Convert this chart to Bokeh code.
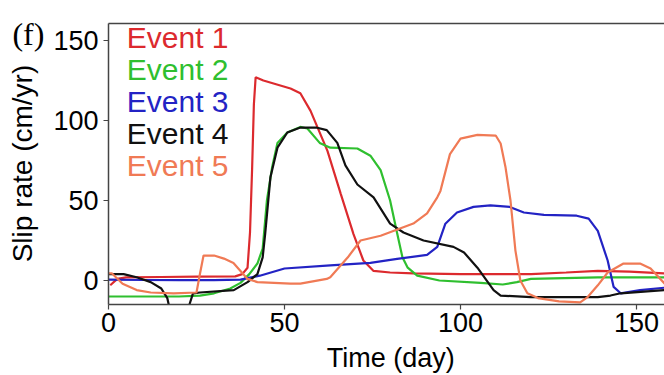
import math
from bokeh.plotting import figure
from bokeh.models import Range1d, LinearAxis, FixedTicker, Label
from bokeh.embed import file_html
from bokeh.resources import INLINE

NaN = float("nan")

# ---- data ----
e1_day = [0.5, 2.5, 5, 15, 25, 36, 38, 39.5, 40.2, 40.8, 41.3, 41.8, 44, 51.7, 54.5, 57.4, 62.2, 66, 69.6, 72.4, 75.3, 80, 86.6, 100, 120, 130, 139, 148, 158]
e1_val = [-3, 1, 2, 2.2, 2.4, 2.6, 4, 8, 30, 70, 110, 127, 125, 120, 117, 106, 81, 54, 29, 12.5, 6, 5, 4.4, 4, 4, 5, 6, 5.5, 4.4]

e2_day = [0, 10, 20, 26, 30, 34.6, 37.5, 40, 42.3, 43.8, 45, 46.5, 48, 50.8, 54.5, 56.5, 60, 63, 70.7, 74.4, 77.3, 80, 82, 83.5, 85, 87.7, 94, 105.7, 112, 116, 120, 139, 158]
e2_val = [-10, -10, -10, -9.5, -8, -5, -1.5, 4, 10.6, 20, 50, 71, 86, 92.5, 96, 95, 86, 83, 82.5, 78, 69, 50, 29.5, 14.5, 8, 3, 0, -1.5, -2.5, -1, 1, 2, 2]

e3_day = [0, 10, 20, 30, 37.5, 43, 50, 63, 74.4, 82, 90.5, 93.4, 95.7, 99, 103.7, 108.5, 114, 118, 123.7, 133, 136.4, 139, 141.8, 143.5, 145.5, 151, 158]
e3_val = [0.5, 0.3, 0.2, 0.2, 0.5, 3, 7.5, 9.5, 11, 13.5, 16, 21, 35.5, 42.5, 46, 47, 46, 42.5, 41, 40.5, 38.7, 31, 12.5, -4, -8, -6, -4.5]

# Event 4 leaves the plotted window (below -15) between about day 17 and day 23
e4_day = [0, 4.3, 8, 12, 15, 16.7, 17.1, NaN, 23, 24, 26, 35.6, 39.5, 42.3, 43.8, 44.5, 46, 48, 50.8, 54.5, 59, 62, 65, 67.3, 70.7, 75.3, 80, 83.8, 89.5, 98, 101, 104.8, 109.4, 111.4, 120, 139, 142.6, 145.5, 158]
e4_val = [4, 4, 2, -1, -5, -11, -15, NaN, -15, -8, -7.5, -6, -1, 4, 14.5, 29, 64.5, 83, 92.5, 95.6, 95.6, 94, 86, 72, 60, 52, 35.6, 30, 25, 21, 17.5, 8, -6, -9.4, -10.4, -10.4, -9.4, -8, -6]

e5_day = [0, 1, 4, 8, 12, 18.5, 25, 26, 27, 30, 32.8, 35.5, 37.5, 39.5, 42.3, 51.7, 54.5, 62, 63, 68, 71.6, 77.3, 86.6, 90.5, 93.4, 94.3, 97, 100, 104.8, 110, 111.4, 112.8, 114.2, 115.6, 117, 119, 122, 128, 134, 136, 139, 141.8, 146.3, 151, 154, 158]
e5_val = [4.4, 4.4, -2, -6, -7.5, -8, -7.5, 4.4, 15.6, 15.6, 13.7, 11, 6, 1, -1, -2, -2, 1, 2, 14.5, 25, 28, 35.6, 42, 52, 56, 79, 88.7, 91, 90.6, 85.6, 70.6, 50, 18.7, 0, -8, -11, -13, -13.7, -10.6, -3, 5, 10.6, 10.6, 7.5, -2]

series_names = ["Event 1", "Event 2", "Event 3", "Event 4", "Event 5"]
series_colors = ["#dc2a2e", "#2fbf2f", "#2323c4", "#111111", "#f07a55"]
x_ticks = [0, 50, 100, 150]
y_ticks = [0, 50, 100, 150]
x_min, x_max = 0, 158
y_min, y_max = -15, 160.6

FONT = "Liberation Sans"

p = figure(width=664, height=375, output_backend="svg", toolbar_location=None,
           x_range=Range1d(-30.68, 157.95), y_range=Range1d(-59.375, 175),
           min_border_left=0, min_border_right=0, min_border_top=0, min_border_bottom=0)
p.outline_line_color = None
p.grid.visible = False
p.background_fill_color = "white"
p.border_fill_color = "white"

days = [e1_day, e2_day, e3_day, e4_day, e5_day]
vals = [e1_val, e2_val, e3_val, e4_val, e5_val]
for d, v, c in zip(days, vals, series_colors):
    p.line(d, v, line_color=c, line_width=2.2)

for ax in (p.xaxis[0], p.yaxis[0]):
    ax.ticker = FixedTicker(ticks=x_ticks if ax is p.xaxis[0] else y_ticks)
    ax.minor_tick_line_color = None
    ax.major_tick_out = 5
    ax.major_tick_in = 0
    ax.axis_line_color = "#444444"
    ax.axis_line_width = 1.5
    ax.major_tick_line_color = "#444444"
    ax.major_tick_line_width = 1.2
    ax.major_label_text_font = FONT
    ax.major_label_text_font_size = "27px"
    ax.major_label_text_color = "black"

p.xaxis.fixed_location = y_min
p.xaxis.bounds = (x_min, x_max)
p.xaxis.major_label_standoff = 3
p.yaxis.fixed_location = x_min
p.yaxis.bounds = (y_min, y_max)
p.yaxis.major_label_standoff = 5

top = LinearAxis(ticker=FixedTicker(ticks=[]), axis_line_color="#444444", axis_line_width=1.5,
                 major_tick_line_color=None, minor_tick_line_color=None,
                 major_label_text_font_size="0px", bounds=(x_min, x_max), fixed_location=y_max)
p.add_layout(top, "above")

# axis titles
p.add_layout(Label(x=80.2, y=-48.3, text="Time (day)", text_color="black", text_font=FONT,
                   text_font_size="27px", text_align="center", text_baseline="alphabetic"))
p.add_layout(Label(x=-24.3, y=73.1, text="Slip rate (cm/yr)", text_color="black", text_font=FONT,
                   text_font_size="28px", text_align="center", text_baseline="middle",
                   angle=math.pi / 2))

legend_y = [152, 132, 112, 92, 72]
for name, c, yy in zip(series_names, series_colors, legend_y):
    p.add_layout(Label(x=5.2, y=yy, text=name, text_color=c, text_font=FONT,
                       text_font_size="30px", text_baseline="middle", text_align="left"))

p.add_layout(Label(x=-27.3, y=154, text="(f)", text_color="black", text_font="Liberation Serif",
                   text_font_size="32px", text_baseline="middle", text_align="left"))

open("out.html", "w").write(file_html(p, INLINE))
